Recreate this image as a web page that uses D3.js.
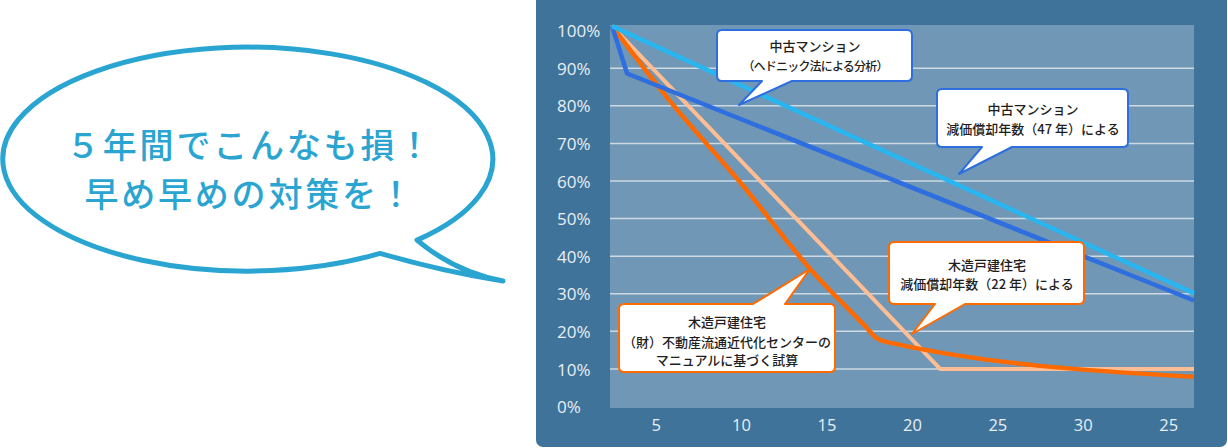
<!DOCTYPE html>
<html>
<head>
<meta charset="utf-8">
<script src="https://cdn.jsdelivr.net/npm/d3@7"></script>
<style>
  html, body { margin: 0; padding: 0; background: #ffffff; }
  svg { display: block; }
</style>
</head>
<body>
<svg id="chart" width="1228" height="448"></svg>
<script>
// ---------------- DATA ----------------
const xTickValues = [5, 10, 15, 20, 25, 30, 35];
const xTickLabels = ["5", "10", "15", "20", "25", "30", "25"];
const yTickValues = [0, 10, 20, 30, 40, 50, 60, 70, 80, 90, 100];
const yGridValues = [10, 20, 30, 40, 50, 60, 70, 80, 90];

// 中古マンション（ヘドニック法による分析）
const mansionHedonicX = [2.45, 36.51];
const mansionHedonicY = [101.2, 30.1];
// 中古マンション 減価償却年数（47年）
const mansionDepX = [2.45, 3.33, 36.51];
const mansionDepY = [101.2, 88.6, 28.2];
// 木造戸建住宅 （財）不動産流通近代化センターのマニュアル
const woodManualX = [2.45, 5.79, 10.03, 14.04, 17.36, 17.9, 18.48, 36.51];
const woodManualY = [101.2, 81.5, 59.2, 36.6, 20.9, 18.3, 17.2, 7.9];
// 木造戸建住宅 減価償却年数（22年）
const woodDepX = [2.45, 21.65, 36.51];
const woodDepY = [101.2, 10, 10];

const bubbleLines = ["５年間でこんなも損！", "早め早めの対策を！"];
const calloutTexts = [
  ["中古マンション", "（ヘドニック法による分析）"],
  ["中古マンション", "減価償却年数（47 年）による"],
  ["木造戸建住宅", "減価償却年数（22 年）による"],
  ["木造戸建住宅", "（財）不動産流通近代化センターの", "マニュアルに基づく試算"]
];

// ---------------- LAYOUT ----------------
const svg = d3.select("#chart");
const plot = { x0: 610, x1: 1194, y0: 25, y1: 408 };
const x = d3.scaleLinear().domain([2.33, 36.51]).range([plot.x0, plot.x1]);
const y = d3.scaleLinear().domain([-0.4, 101.5]).range([plot.y1, plot.y0]);

const cjk = "'Noto Sans CJK JP', 'Noto Sans', sans-serif";
const latin = "'Open Sans', 'Noto Sans', sans-serif";

// ---------- left speech bubble ----------
const bubbleColor = "#2aa5d2";
svg.append("path")
  .attr("d", "M380,253.4 A245,112 0 1 1 417,240.1 Q455,272 503,281 Q445,272 380,253.4 Z")
  .attr("fill", "#ffffff")
  .attr("stroke", bubbleColor)
  .attr("stroke-width", 5)
  .attr("stroke-linejoin", "round");

svg.append("g").selectAll("text").data(bubbleLines).join("text")
  .attr("x", 250)
  .attr("y", (d, i) => 143.5 + i * 48.5)
  .attr("text-anchor", "middle")
  .attr("dominant-baseline", "central")
  .attr("font-family", cjk)
  .attr("font-weight", 500)
  .attr("font-size", 34)
  .attr("letter-spacing", 2.8)
  .attr("fill", bubbleColor)
  .text(d => d);

// ---------- chart panel ----------
svg.append("rect")
  .attr("x", 536).attr("y", -8).attr("width", 691).attr("height", 455)
  .attr("rx", 7).attr("fill", "#3f7399");
svg.append("rect")
  .attr("x", plot.x0).attr("y", plot.y0)
  .attr("width", plot.x1 - plot.x0).attr("height", plot.y1 - plot.y0)
  .attr("fill", "#7097b5");

// gridlines
svg.append("g").selectAll("line").data(yGridValues).join("line")
  .attr("x1", plot.x0).attr("x2", plot.x1)
  .attr("y1", d => y(d)).attr("y2", d => y(d))
  .attr("stroke", "#cdd9e3").attr("stroke-width", 1.5);

// y axis labels
const yAxis = svg.append("g")
  .attr("transform", "translate(557,0)")
  .call(d3.axisLeft(y).tickValues(yTickValues).tickFormat(d => d + "%").tickSize(0));
yAxis.select(".domain").remove();
yAxis.selectAll("text")
  .attr("x", 0).attr("dy", "0.36em")
  .attr("text-anchor", "start")
  .attr("font-family", latin)
  .attr("font-size", 17)
  .attr("fill", "#e8eff5");

// x axis labels
const xAxis = svg.append("g")
  .attr("transform", `translate(0,${plot.y1})`)
  .call(d3.axisBottom(x).tickValues(xTickValues).tickFormat((d, i) => xTickLabels[i]).tickSize(0));
xAxis.select(".domain").remove();
xAxis.selectAll("text")
  .attr("y", 17.5).attr("dy", "0.36em")
  .attr("font-family", latin)
  .attr("font-size", 16.5)
  .attr("fill", "#e8eff5");

// ---------- lines ----------
const series = [
  { xs: woodDepX, ys: woodDepY, color: "#ffbd94", w: 4, curve: d3.curveLinear },
  { xs: woodManualX, ys: woodManualY, color: "#ff6a00", w: 4.5, curve: d3.curveMonotoneX },
  { xs: mansionDepX, ys: mansionDepY, color: "#2e6ede", w: 4.5, curve: d3.curveLinear },
  { xs: mansionHedonicX, ys: mansionHedonicY, color: "#29b6f0", w: 4.5, curve: d3.curveLinear }
];
const linesG = svg.append("g");
series.forEach(s => {
  const pts = s.xs.map((v, i) => [v, s.ys[i]]);
  linesG.append("path")
    .attr("d", d3.line().x(d => x(d[0])).y(d => y(d[1])).curve(s.curve)(pts))
    .attr("fill", "none")
    .attr("stroke", s.color)
    .attr("stroke-width", s.w)
    .attr("stroke-linejoin", "round")
    .attr("stroke-linecap", "butt");
});

// ---------- callouts ----------
function calloutPath(x0, y0, x1, y1, r, edge, b0, b1, tx, ty) {
  let p = `M${x0 + r},${y0}`;
  if (edge === "top") p += ` L${b0},${y0} L${tx},${ty} L${b1},${y0}`;
  p += ` L${x1 - r},${y0} Q${x1},${y0} ${x1},${y0 + r}`;
  p += ` L${x1},${y1 - r} Q${x1},${y1} ${x1 - r},${y1}`;
  if (edge === "bottom") p += ` L${b1},${y1} L${tx},${ty} L${b0},${y1}`;
  p += ` L${x0 + r},${y1} Q${x0},${y1} ${x0},${y1 - r}`;
  p += ` L${x0},${y0 + r} Q${x0},${y0} ${x0 + r},${y0} Z`;
  return p;
}
const callouts = [
  { box: [717, 30, 912, 81], edge: "bottom", base: [762, 792], tip: [739, 105], color: "#2e6ede", cx: 815, ly: [45, 65], fs: [13, 12], ls: [0, -0.8] },
  { box: [937, 89, 1128, 147], edge: "bottom", base: [982, 1012], tip: [959, 174], color: "#2e6ede", cx: 1033, ly: [108, 128], fs: [13, 13], ls: [0, 0] },
  { box: [889, 242, 1084, 304], edge: "bottom", base: [935, 965], tip: [912, 334], color: "#ff6a00", cx: 987, ly: [264, 283], fs: [13, 13], ls: [0, 0] },
  { box: [619, 304, 835, 372], edge: "top", base: [753, 785], tip: [810, 269], color: "#ff6a00", cx: 727, ly: [321, 341, 359], fs: [13, 13, 13], ls: [0, 0, 0] }
];
callouts.forEach((c, ci) => {
  const g = svg.append("g");
  g.append("path")
    .attr("d", calloutPath(c.box[0], c.box[1], c.box[2], c.box[3], 5, c.edge, c.base[0], c.base[1], c.tip[0], c.tip[1]))
    .attr("fill", "#ffffff")
    .attr("stroke", c.color)
    .attr("stroke-width", 2)
    .attr("stroke-linejoin", "round");
  g.selectAll("text").data(calloutTexts[ci]).join("text")
    .attr("x", c.cx)
    .attr("y", (d, i) => c.ly[i])
    .attr("text-anchor", "middle")
    .attr("dominant-baseline", "central")
    .attr("font-family", cjk)
    .attr("font-weight", 500)
    .attr("font-size", (d, i) => c.fs[i])
    .attr("letter-spacing", (d, i) => c.ls[i])
    .attr("fill", "#1e1e1e")
    .text(d => d);
});
</script>
</body>
</html>
